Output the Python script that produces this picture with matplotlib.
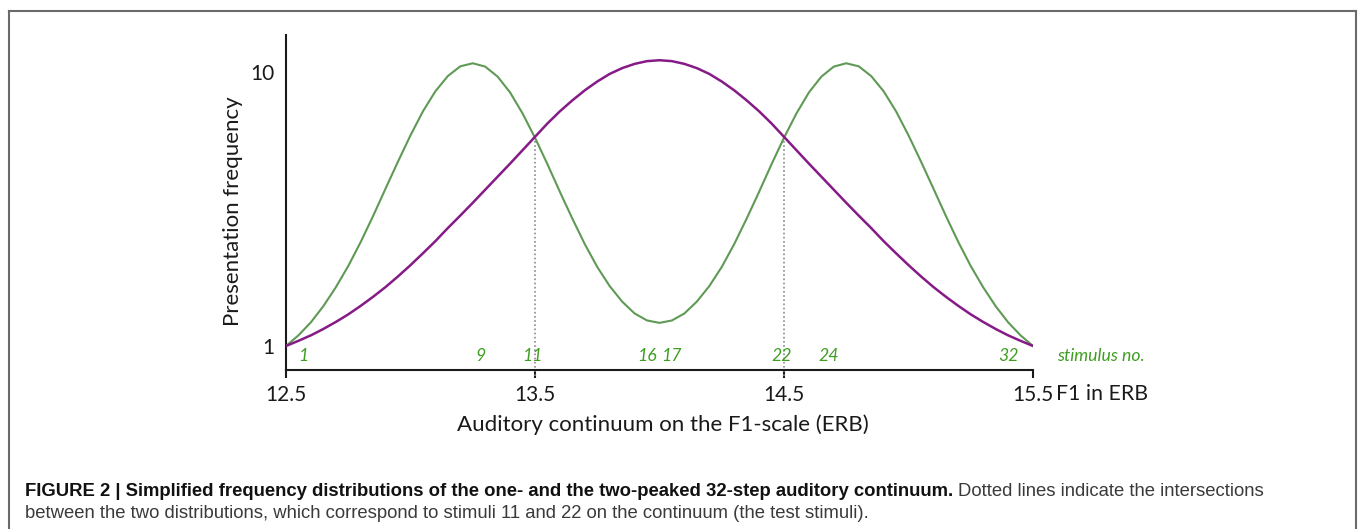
import matplotlib
matplotlib.use("Agg")
import matplotlib.pyplot as plt
from matplotlib.lines import Line2D
from matplotlib import font_manager

W, H = 1358, 529
DPI = 100

# ---- data -------------------------------------------------------------
erb = [12.50, 12.55, 12.60, 12.65, 12.70, 12.75, 12.80, 12.85, 12.90, 12.95,
       13.00, 13.05, 13.10, 13.15, 13.20, 13.25, 13.30, 13.35, 13.40, 13.45,
       13.50, 13.55, 13.60, 13.65, 13.70, 13.75, 13.80, 13.85, 13.90, 13.95,
       14.00, 14.05, 14.10, 14.15, 14.20, 14.25, 14.30, 14.35, 14.40, 14.45,
       14.50, 14.55, 14.60, 14.65, 14.70, 14.75, 14.80, 14.85, 14.90, 14.95,
       15.00, 15.05, 15.10, 15.15, 15.20, 15.25, 15.30, 15.35, 15.40, 15.45,
       15.50]

one_peak = [1.00, 1.17, 1.35, 1.56, 1.79, 2.04, 2.32, 2.62, 2.94, 3.29,
            3.66, 4.05, 4.45, 4.88, 5.29, 5.71, 6.14, 6.57, 7.00, 7.44,
            7.88, 8.32, 8.72, 9.08, 9.41, 9.70, 9.95, 10.14, 10.28, 10.37,
            10.40, 10.37, 10.28, 10.14, 9.95, 9.70, 9.41, 9.08, 8.72, 8.32,
            7.88, 7.44, 7.00, 6.57, 6.14, 5.71, 5.29, 4.88, 4.45, 4.05,
            3.66, 3.29, 2.94, 2.62, 2.32, 2.04, 1.79, 1.56, 1.35, 1.17,
            1.00]

two_peak = [1.00, 1.35, 1.78, 2.31, 2.93, 3.63, 4.42, 5.28, 6.18, 7.07,
            7.93, 8.72, 9.38, 9.88, 10.20, 10.30, 10.19, 9.86, 9.34, 8.65,
            7.85, 6.98, 6.07, 5.19, 4.35, 3.60, 2.97, 2.46, 2.07, 1.84,
            1.76, 1.84, 2.07, 2.46, 2.97, 3.60, 4.35, 5.19, 6.07, 6.98,
            7.85, 8.65, 9.34, 9.86, 10.19, 10.30, 10.20, 9.88, 9.38, 8.72,
            7.93, 7.07, 6.18, 5.28, 4.42, 3.63, 2.93, 2.31, 1.78, 1.35,
            1.00]

intersect_erb = [13.5, 14.5]
intersect_val = [7.86, 7.86]

stimulus_numbers = ["1", "9", "11", "16", "17", "22", "24", "32"]
stimulus_erb = [12.57, 13.28, 13.49, 13.95, 14.05, 14.49, 14.68, 15.40]

x_ticks = [12.5, 13.5, 14.5, 15.5]
x_tick_labels = ["12.5", "13.5", "14.5", "15.5"]
y_ticks = [1, 10]
y_tick_labels = ["1", "10"]

# ---- style ------------------------------------------------------------
plt.rcParams['font.family'] = ['Lato', 'DejaVu Sans']
GREEN_LINE = "#5f9a55"
PURPLE = "#861a86"
GREEN_TXT = "#3f9e22"
AXC = "#1a1a1a"

avail = {f.name for f in font_manager.fontManager.ttflist}
cap_font = "Liberation Sans Narrow" if "Liberation Sans Narrow" in avail else "Liberation Sans"

fig = plt.figure(figsize=(W / DPI, H / DPI), dpi=DPI)

def px(x, y):
    return x / W, 1 - y / H

ax_left, ax_right, ax_top, ax_bot = 286, 1033, 35, 370
ax = fig.add_axes([ax_left / W, 1 - ax_bot / H, (ax_right - ax_left) / W, (ax_bot - ax_top) / H])
ax.set_xlim(12.5, 15.5)
ax.set_ylim(0.21, 11.23)

ax.plot(erb, two_peak, color=GREEN_LINE, lw=1.5, solid_joinstyle='round',
        solid_capstyle='round', zorder=3)
ax.plot(erb, one_peak, color=PURPLE, lw=1.8, solid_joinstyle='round',
        solid_capstyle='round', zorder=4)

for xe, ye in zip(intersect_erb, intersect_val):
    ax.plot([xe, xe], [0.0, ye], color="#8a8a8a", lw=1.2, ls=(0, (1, 1.5)),
            clip_on=False, zorder=2)

for s, xe in zip(stimulus_numbers, stimulus_erb):
    ax.text(xe, 0.67, s, color=GREEN_TXT, fontsize=12.7, style='italic',
            ha='center', va='center')
ax.text(15.5 + 24 / 249, 0.67, "stimulus no.", color=GREEN_TXT, fontsize=12.7,
        style='italic', ha='left', va='center', clip_on=False)

for side in ("top", "right"):
    ax.spines[side].set_visible(False)
for side in ("left", "bottom"):
    ax.spines[side].set_linewidth(1.5)
    ax.spines[side].set_color(AXC)

ax.set_xticks(x_ticks)
ax.set_xticklabels(x_tick_labels, fontsize=15, color=AXC)
ax.tick_params(axis='x', direction='out', length=6, width=1.5, color=AXC, pad=5)
ax.set_yticks(y_ticks)
ax.set_yticklabels(y_tick_labels, fontsize=15, color=AXC)
ax.tick_params(axis='y', length=0, pad=8)

fig.text(*px(1056, 394), "F1 in ERB", fontsize=15.3, color=AXC, ha='left', va='center')
fig.text(*px(663, 425), "Auditory continuum on the F1-scale (ERB)", fontsize=16,
         color=AXC, ha='center', va='center')
fig.text(*px(233, 211), "Presentation frequency", fontsize=16, color=AXC,
         ha='center', va='center', rotation=90)

# ---- frame ------------------------------------------------------------
fc = "#6a6a6a"
x0, x1, yt = 8.5 / W, 1355.5 / W, 1 - 10.5 / H
fig.add_artist(Line2D([x0, x0], [-0.05, yt], color=fc, lw=1.5, transform=fig.transFigure))
fig.add_artist(Line2D([x1, x1], [-0.05, yt], color=fc, lw=1.5, transform=fig.transFigure))
fig.add_artist(Line2D([x0, x1], [yt, yt], color=fc, lw=1.5, transform=fig.transFigure))

# ---- caption ----------------------------------------------------------
cap_size = 13.3
renderer = fig.canvas.get_renderer()
t1 = fig.text(*px(25, 491), "FIGURE 2 | Simplified frequency distributions of the one- and the two-peaked 32-step auditory continuum.",
              fontsize=cap_size, fontweight='bold', family=cap_font, color="#111111",
              ha='left', va='center')
bb = t1.get_window_extent(renderer=renderer)
fig.text((bb.x1 + 5) / W, 1 - 491 / H, "Dotted lines indicate the intersections",
         fontsize=cap_size, family=cap_font, color="#3a3a3a", ha='left', va='center')
fig.text(*px(25, 514), "between the two distributions, which correspond to stimuli 11 and 22 on the continuum (the test stimuli).",
         fontsize=cap_size, family=cap_font, color="#3a3a3a", ha='left', va='center')

fig.savefig("out.png", dpi=DPI)
